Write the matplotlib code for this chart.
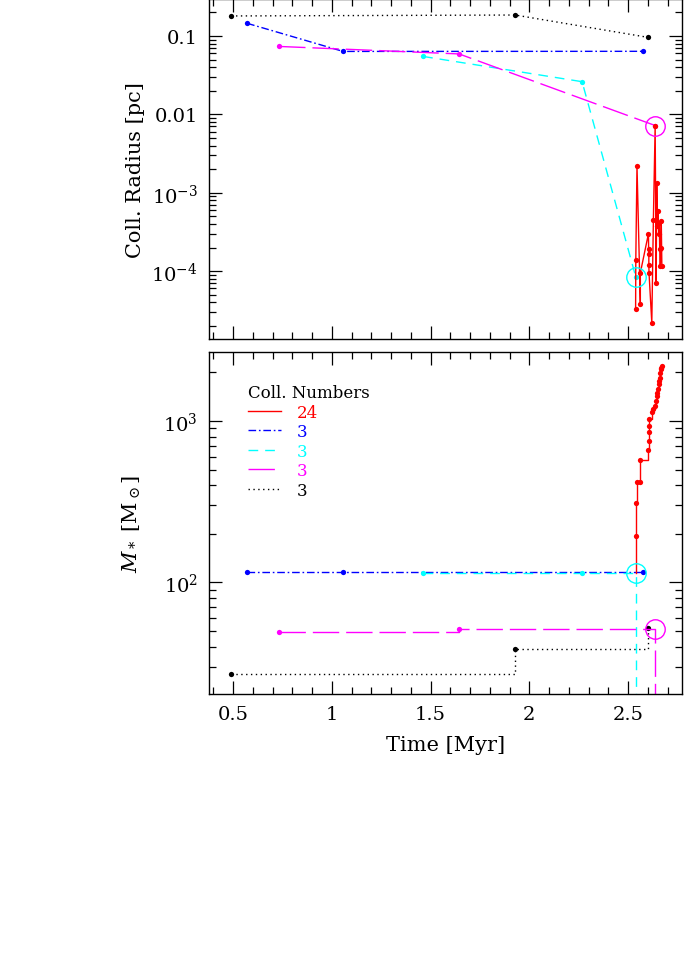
import numpy as np
import matplotlib
matplotlib.use('Agg')
import matplotlib.pyplot as plt
from matplotlib.ticker import MultipleLocator, LogLocator, FuncFormatter, NullFormatter

plt.rcParams['font.family'] = 'DejaVu Serif'
plt.rcParams['mathtext.fontset'] = 'dejavuserif'

# collision times [Myr]
t_black = [0.49, 1.928, 2.601]
t_blue = [0.571, 1.057, 2.576]
t_cyan = [1.462, 2.267, 2.539]
t_magenta = [0.733, 1.644, 2.637]
t_red = [2.538, 2.539, 2.545, 2.562, 2.562, 2.603, 2.604, 2.605, 2.605, 2.606,
         2.620, 2.628, 2.637, 2.642, 2.645, 2.648, 2.652, 2.655, 2.658, 2.660,
         2.663, 2.666, 2.668, 2.671]

# collision radius [pc]
r_black = [0.18, 0.185, 0.096]
r_blue = [0.145, 0.0635, 0.0637]
r_cyan = [0.0548, 0.0261, 8.4e-5]
r_magenta = [0.0735, 0.059, 0.0072]
r_red = [3.3e-5, 1.4e-4, 2.2e-3, 3.8e-5, 9.5e-5, 3.0e-4, 1.9e-4, 1.65e-4, 1.2e-4, 9.4e-5,
         2.2e-5, 4.5e-4, 7.2e-3, 7.0e-5, 1.34e-3, 3.8e-4, 5.8e-4, 3.0e-4, 4.1e-4, 1.9e-4,
         1.16e-4, 2.0e-4, 4.3e-4, 1.16e-4]

# stellar mass after each collision [Msun]
m_black = [27.3, 38.9, 52.4]
m_blue = [115.5, 116, 116]
m_cyan = [115, 115, 115]
m_magenta = [49.5, 51.6, 51.6]
m_red = [194, 309, 416, 416, 575, 661, 754, 848, 931, 1024,
         1136, 1180, 1237, 1327, 1425, 1496, 1583, 1682, 1762, 1849,
         1965, 2080, 2130, 2178]
m_red_start = 115     # red starts from the swallowed cyan star
m_gone = 1.0          # mass after being swallowed (off the axis)

labels = ['24', '3', '3', '3', '3']

styles = {
    'red': dict(color='#ff0000', ls='-'),
    'blue': dict(color='#0000ff', ls=(0, (5.5, 2, 1.2, 2))),
    'cyan': dict(color='#00ffff', ls=(0, (7, 5))),
    'magenta': dict(color='#ff00ff', ls=(0, (19, 5))),
    'black': dict(color='black', ls=(0, (1, 2.5))),
}
lw = 1.0
ms = 3.8

fig = plt.figure(figsize=(6.84, 9.79), dpi=100)
ax1 = fig.add_axes([0.3056, 0.6527, 0.6915, 0.3468])
ax2 = fig.add_axes([0.3056, 0.2901, 0.6915, 0.3493])

# top panel: collision radius
for t, r, c in [(t_black, r_black, 'black'), (t_blue, r_blue, 'blue'),
                (t_cyan, r_cyan, 'cyan'), (t_magenta, r_magenta, 'magenta'),
                (t_red, r_red, 'red')]:
    ax1.plot(t, r, lw=lw, **styles[c])
    ax1.plot(t, r, 'o', color=styles[c]['color'], ms=ms, mec='none')
ax1.plot(t_cyan[-1], r_cyan[-1], 'o', mfc='none', mec='#00ffff', ms=14, mew=1.0)
ax1.plot(t_magenta[-1], r_magenta[-1], 'o', mfc='none', mec='#ff00ff', ms=14, mew=1.0)

# bottom panel: mass
handles = {}
handles['black'], = ax2.plot(t_black, m_black, lw=lw, drawstyle='steps-post', **styles['black'])
ax2.plot(t_black, m_black, 'o', color='black', ms=ms, mec='none')
handles['blue'], = ax2.plot(t_blue, m_blue, lw=lw, drawstyle='steps-post', **styles['blue'])
ax2.plot(t_blue, m_blue, 'o', color='#0000ff', ms=ms, mec='none')
handles['cyan'], = ax2.plot(t_cyan + [t_cyan[-1]], m_cyan + [m_gone], lw=lw,
                            drawstyle='steps-post', **styles['cyan'])
ax2.plot(t_cyan[:-1], m_cyan[:-1], 'o', color='#00ffff', ms=ms, mec='none')
handles['magenta'], = ax2.plot(t_magenta + [t_magenta[-1]], m_magenta + [m_gone], lw=lw,
                               drawstyle='steps-post', **styles['magenta'])
ax2.plot(t_magenta[:-1], m_magenta[:-1], 'o', color='#ff00ff', ms=ms, mec='none')
handles['red'], = ax2.plot([t_red[0]] + t_red, [m_red_start] + m_red, lw=lw,
                           drawstyle='steps-post', **styles['red'])
ax2.plot(t_red, m_red, 'o', color='#ff0000', ms=ms, mec='none')
ax2.plot(t_cyan[-1], m_cyan[-1], 'o', mfc='none', mec='#00ffff', ms=14, mew=1.0)
ax2.plot(t_magenta[-1], m_magenta[-1], 'o', mfc='none', mec='#ff00ff', ms=14, mew=1.0)

leg = ax2.legend([handles[k] for k in ['red', 'blue', 'cyan', 'magenta', 'black']], labels,
                 title='Coll. Numbers', loc='upper left', bbox_to_anchor=(0.065, 0.93),
                 frameon=False, fontsize=12, title_fontsize=12, labelcolor='linecolor',
                 handlelength=2.0, handletextpad=0.9, labelspacing=0.15, borderpad=0,
                 alignment='left')


def radius_fmt(v, pos):
    if v >= 0.1:
        return '0.1'
    if v >= 0.01:
        return '0.01'
    return r'$10^{%d}$' % int(round(np.log10(v)))


def mass_fmt(v, pos):
    return r'$10^{%d}$' % int(round(np.log10(v)))


for ax in (ax1, ax2):
    ax.set_yscale('log')
    ax.set_xlim(0.378, 2.773)
    ax.xaxis.set_major_locator(MultipleLocator(0.5))
    ax.xaxis.set_minor_locator(MultipleLocator(0.1))
    ax.yaxis.set_major_locator(LogLocator(base=10))
    ax.yaxis.set_minor_locator(LogLocator(base=10, subs=np.arange(2, 10)))
    ax.yaxis.set_minor_formatter(NullFormatter())
    ax.tick_params(which='both', direction='in', top=True, right=True, width=0.9)
    ax.tick_params(which='major', length=9.5, labelsize=14, pad=8)
    ax.tick_params(which='minor', length=5)
    for s in ax.spines.values():
        s.set_linewidth(1.0)

ax1.set_ylim(1.36e-5, 0.292)
ax2.set_ylim(20.4, 2667)
ax1.yaxis.set_major_formatter(FuncFormatter(radius_fmt))
ax2.yaxis.set_major_formatter(FuncFormatter(mass_fmt))
ax1.xaxis.set_major_formatter(NullFormatter())
ax2.xaxis.set_major_formatter(FuncFormatter(lambda v, p: '%g' % v))

ax1.set_ylabel('Coll. Radius [pc]', fontsize=15)
ax1.yaxis.set_label_coords(-0.135, 0.5)
ax2.set_ylabel(r'$M_*$ [M$_\odot$]', fontsize=15)
ax2.yaxis.set_label_coords(-0.14, 0.5)
ax2.set_xlabel('Time [Myr]', fontsize=15)
ax2.xaxis.set_label_coords(0.5, -0.12)

plt.savefig('out.png', dpi=100)
